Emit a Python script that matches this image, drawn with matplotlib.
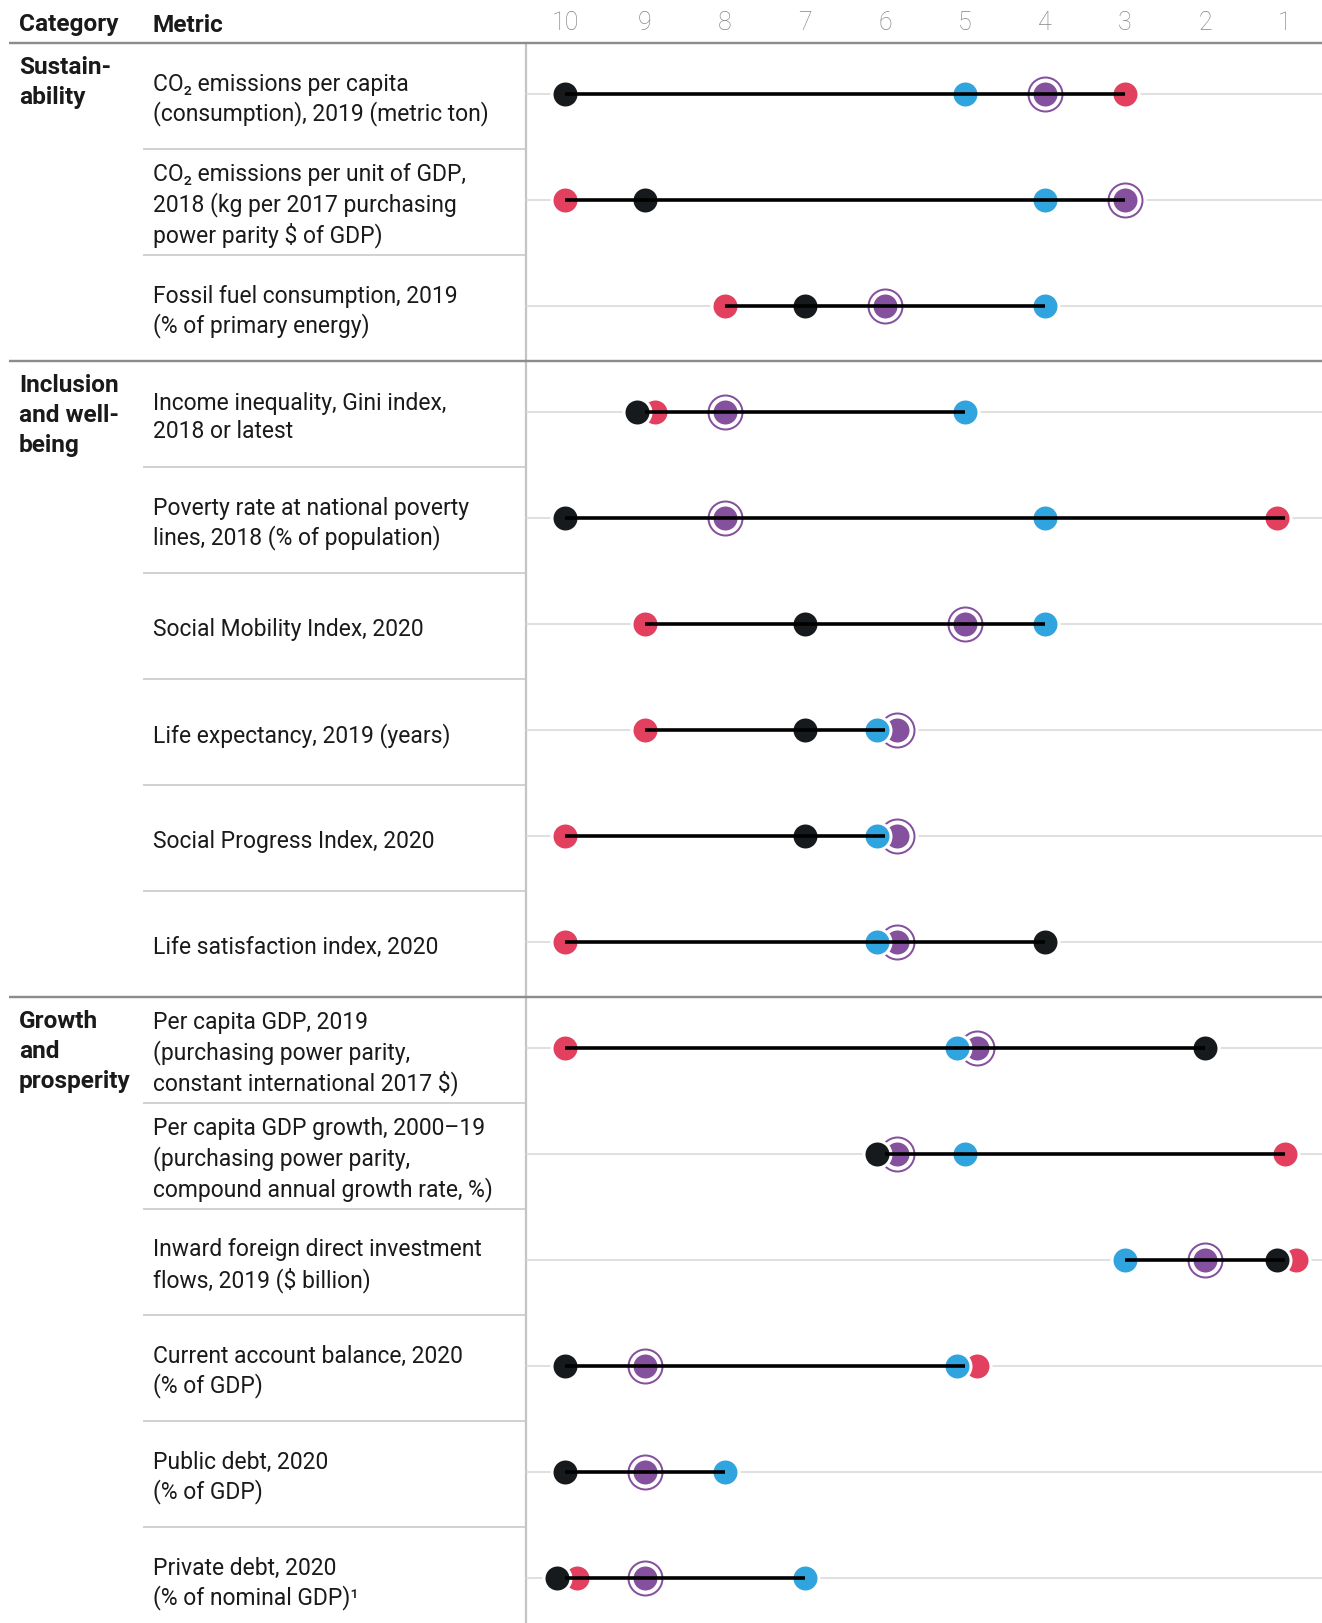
import matplotlib
matplotlib.use("Agg")
import matplotlib.pyplot as plt
import numpy as np

plt.rcParams['font.family'] = ['Roboto', 'DejaVu Sans']

# ---------------- data ----------------
categories = ["Sustain-\nability", "Inclusion\nand well-\nbeing", "Growth\nand\nprosperity"]
category_rows = [0, 3, 9]

metrics = [
    "CO₂ emissions per capita\n(consumption), 2019 (metric ton)",
    "CO₂ emissions per unit of GDP,\n2018 (kg per 2017 purchasing\npower parity \\$ of GDP)",
    "Fossil fuel consumption, 2019\n(% of primary energy)",
    "Income inequality, Gini index,\n2018 or latest",
    "Poverty rate at national poverty\nlines, 2018 (% of population)",
    "Social Mobility Index, 2020",
    "Life expectancy, 2019 (years)",
    "Social Progress Index, 2020",
    "Life satisfaction index, 2020",
    "Per capita GDP, 2019\n(purchasing power parity,\nconstant international 2017 \\$)",
    "Per capita GDP growth, 2000–19\n(purchasing power parity,\ncompound annual growth rate, %)",
    "Inward foreign direct investment\nflows, 2019 (\\$ billion)",
    "Current account balance, 2020\n(% of GDP)",
    "Public debt, 2020\n(% of GDP)",
    "Private debt, 2020\n(% of nominal GDP)¹",
]

rank_ticks = [10, 9, 8, 7, 6, 5, 4, 3, 2, 1]

nan = np.nan
rank_black  = [10, 9, 7, 9.1, 10, 7, 7, 7, 4, 2, 6.1, 1.1, 10, 10, 10.1]
rank_blue   = [5, 4, 4, 5, 4, 4, 6.1, 6.1, 6.1, 5.1, 5, 3, 5.1, 8, 7]
rank_red    = [3, 10, 8, 8.87, 1.1, 9, 9, 10, 10, 10, 1, 0.86, 4.85, nan, 9.85]
rank_purple = [4, 3, 6, 8, 8, 5, 5.85, 5.85, 5.85, 4.85, 5.85, 2, 9, 9, 9]

# ---------------- layout (pixels) ----------------
W, H = 1322, 1624
TOP = 43.5          # header rule
ROW_H = 106.0
AX_X = 526.0        # vertical rule / start of dot area
X10, PX_PER_UNIT = 565.0, 80.0

C_BLACK = "#171a1d"
C_BLUE = "#2fa4de"
C_RED = "#e3405f"
C_PURPLE = "#85509e"
C_TEXT = "#1a1a1a"
C_RULE = "#8c8c8c"
C_SEP = "#d2d2d2"
C_GRID = "#d9d9d9"

px = 72.0 / 100.0   # points per pixel at dpi=100

fig = plt.figure(figsize=(W / 100, H / 100), dpi=100)

# text / table axes in pixel coordinates
at = fig.add_axes([0, 0, 1, 1])
at.set_xlim(0, W)
at.set_ylim(H, 0)
at.axis("off")

n = len(metrics)
FS = 16.5
FSB = 17.6

at.text(19, 25, "Category", fontsize=FSB, fontweight="bold", color=C_TEXT, va="center", ha="left")
at.text(153, 25, "Metric", fontsize=FSB, fontweight="bold", color=C_TEXT, va="center", ha="left")

for i, m in enumerate(metrics):
    yc = TOP + ROW_H * (i + 0.5) + 3
    at.text(153, yc, m, fontsize=FS, color=C_TEXT, va="center", ha="left", linespacing=1.3)

for c, r in zip(categories, category_rows):
    ytop = TOP + ROW_H * r
    at.text(19, ytop + 12, c, fontsize=FSB, fontweight="bold", color=C_TEXT,
            va="top", ha="left", linespacing=1.41)

# row separators within sections
section_breaks = set(category_rows[1:])
for i in range(1, n):
    y = TOP + ROW_H * i
    if i in section_breaks:
        at.plot([9, W], [y, y], color=C_RULE, lw=2.4 * px, solid_capstyle="butt", zorder=3)
    else:
        at.plot([143, AX_X], [y, y], color=C_SEP, lw=2.0 * px, solid_capstyle="butt", zorder=2)
# header rule
at.plot([9, W], [TOP, TOP], color=C_RULE, lw=2.4 * px, solid_capstyle="butt", zorder=3)
# vertical rule
at.plot([AX_X, AX_X], [TOP, H], color="#c4c4c4", lw=2.2 * px, zorder=2)

# ---------------- dot chart axes ----------------
ax = fig.add_axes([AX_X / W, 0, 1 - AX_X / W, (H - TOP) / H])
x_left = 10 + (X10 - AX_X) / PX_PER_UNIT
x_right = 10 - (W - X10) / PX_PER_UNIT
ax.set_xlim(x_left, x_right)
y_top = -0.5 + 2.0 / ROW_H
ax.set_ylim(y_top + (H - TOP) / ROW_H, y_top)
ax.patch.set_alpha(0)
for s in ax.spines.values():
    s.set_visible(False)
ax.set_yticks([])
ax.xaxis.tick_top()
ax.set_xticks(rank_ticks)
ax.set_xticklabels([str(t) for t in rank_ticks])
ax.tick_params(axis="x", length=0, pad=6, labelsize=18, labelcolor="#858585")
for lab in ax.get_xticklabels():
    lab.set_fontweight("light")

rows = np.arange(n)

# gridlines
for i in rows:
    ax.axhline(i, color=C_GRID, lw=1.6 * px, zorder=1)

DOT = 27 * px       # marker diameter (pt) incl. half of white edge
EDGE = 3 * px

# purple: white halo, ring, inner dot
ax.scatter(rank_purple, rows, s=(42 * px) ** 2, color="white", lw=0, zorder=3)
ax.scatter(rank_purple, rows, s=(34 * px) ** 2, facecolor="white", edgecolor=C_PURPLE,
           lw=2 * px, zorder=3.1)
ax.scatter(rank_purple, rows, s=(24 * px) ** 2, color=C_PURPLE, lw=0, zorder=3.2)

for vals, col, z in [(rank_red, C_RED, 4), (rank_blue, C_BLUE, 5), (rank_black, C_BLACK, 6)]:
    ax.scatter(vals, rows, s=DOT ** 2, facecolor=col, edgecolor="white", lw=EDGE, zorder=z)

# connecting line spanning the (integer) rank range of each metric
allv = np.array([rank_black, rank_blue, rank_red, rank_purple], dtype=float)
lo = np.round(np.nanmin(allv, axis=0))
hi = np.round(np.nanmax(allv, axis=0))
ax.hlines(rows, lo, hi, color="black", lw=3.6 * px, zorder=7, capstyle="butt")

fig.savefig("out.png", dpi=100)
